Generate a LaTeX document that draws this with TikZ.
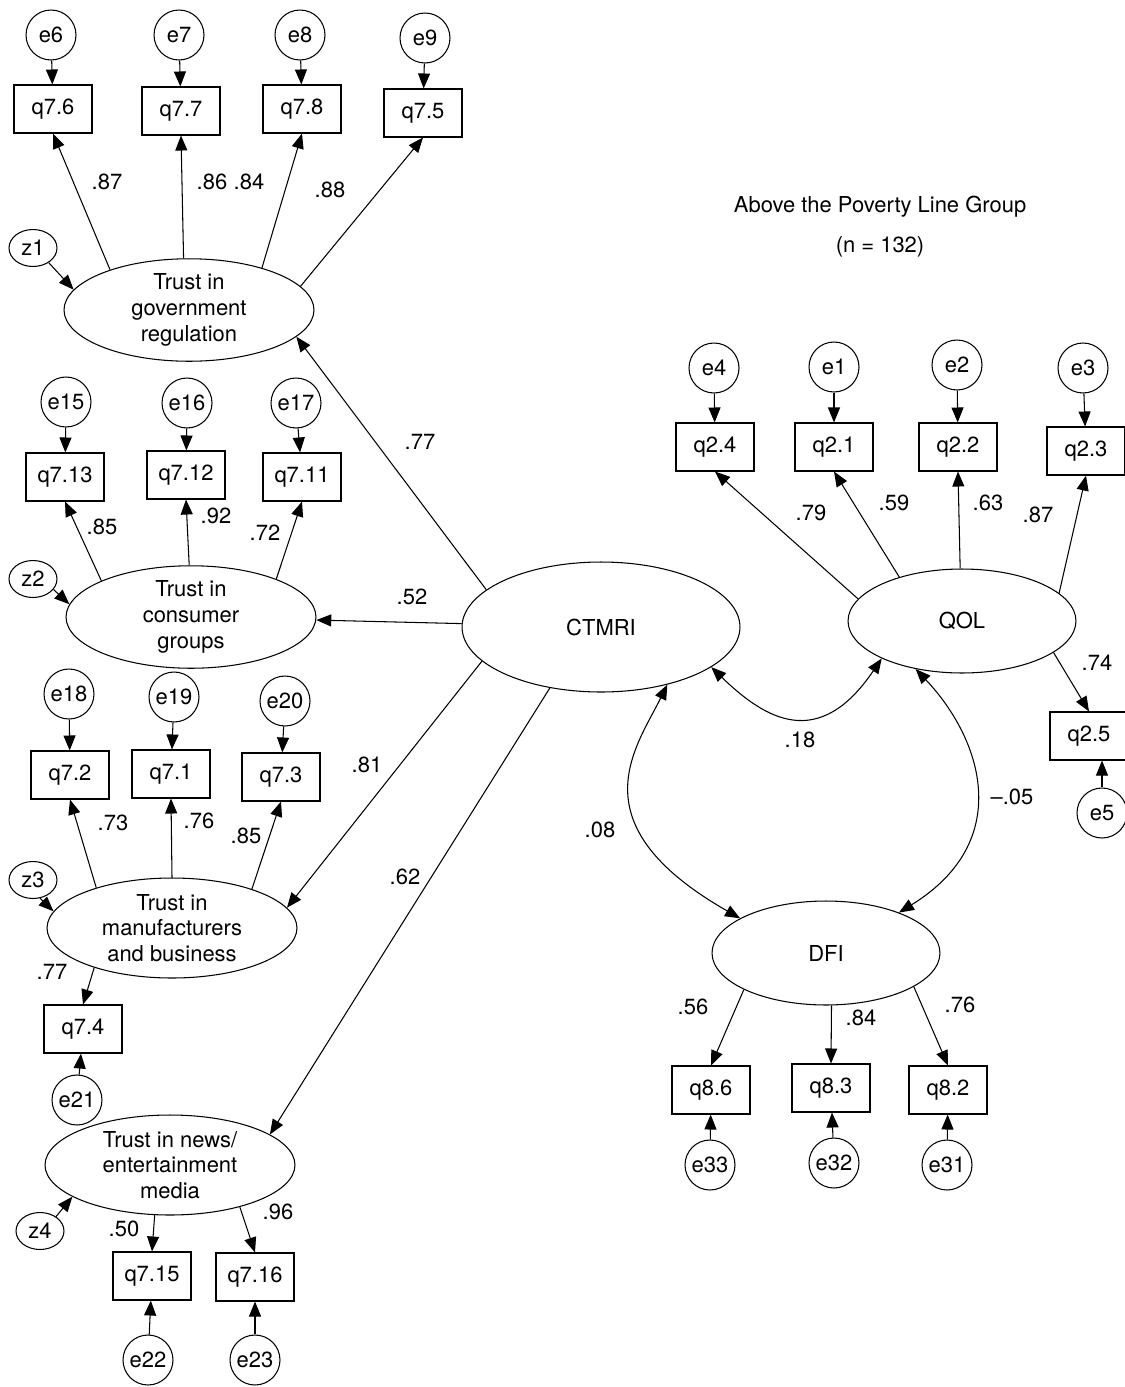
\documentclass[tikz,border=0pt]{standalone}
\usepackage{fontspec}
\setmainfont{TeX Gyre Heros}
\usetikzlibrary{arrows.meta,shapes.geometric}

\begin{document}
\begin{tikzpicture}[x=0.02cm, y=-0.02cm, line width=0.6pt,
    every node/.style={font=\fontsize{12.5}{14.7}\selectfont},
    obs/.style={draw, rectangle, minimum width=1.56cm, minimum height=0.96cm, inner sep=0pt},
    err/.style={draw, circle, minimum size=1cm, inner sep=0pt},
    dist/.style={draw, ellipse, minimum width=0.96cm, minimum height=0.74cm, inner sep=0pt},
    lat/.style={draw, ellipse, minimum width=5cm, minimum height=2cm, inner sep=0pt, align=center},
    reg/.style={-{Triangle[length=0.3cm, width=0.24cm]}},
    cov/.style={{Triangle[length=0.3cm, width=0.24cm]}-{Triangle[length=0.3cm, width=0.24cm]}}]
    \useasboundingbox (0,0) rectangle (1125,1387);
    % title
    \node (title) at (880,207) {Above the Poverty Line Group};
    \node (ncases) at (880,247) {(n = 132)};
    % trust in government regulation
    \node[err] (e6) at (51,35) {e6};
    \node[err] (e7) at (179,35) {e7};
    \node[err] (e8) at (300,35) {e8};
    \node[err] (e9) at (425,38) {e9};
    \node[obs] (q7-6) at (53,109) {q7.6};
    \node[obs] (q7-7) at (181,111) {q7.7};
    \node[obs] (q7-8) at (302,109) {q7.8};
    \node[obs] (q7-5) at (423,113) {q7.5};
    \node[dist] (z1) at (33,248) {z1};
    \node[lat] (gov) at (189,310) {Trust in\\government\\regulation};
    % trust in consumer groups
    \node[err] (e15) at (66,402) {e15};
    \node[err] (e16) at (187,403) {e16};
    \node[err] (e17) at (296,403) {e17};
    \node[obs] (q7-13) at (65,477) {q7.13};
    \node[obs] (q7-12) at (186,475) {q7.12};
    \node[obs] (q7-11) at (302,477) {q7.11};
    \node[dist] (z2) at (33,579) {z2};
    \node[lat] (cons) at (191,617) {Trust in\\consumer\\groups};
    % trust in manufacturers
    \node[err] (e18) at (69,694) {e18};
    \node[err] (e19) at (174,697) {e19};
    \node[err] (e20) at (285,701) {e20};
    \node[obs] (q7-2) at (70,775) {q7.2};
    \node[obs] (q7-1) at (171,774) {q7.1};
    \node[obs] (q7-3) at (281,777) {q7.3};
    \node[dist] (z3) at (33,880) {z3};
    \node[lat] (manuf) at (172,928) {Trust in\\manufacturers\\and business};
    \node[obs] (q7-4) at (83,1029) {q7.4};
    \node[err] (e21) at (77,1100) {e21};
    % trust in news
    \node[lat] (news) at (170,1165) {Trust in news/\\entertainment\\media};
    \node[dist] (z4) at (40,1231) {z4};
    \node[obs] (q7-15) at (152,1276) {q7.15};
    \node[obs] (q7-16) at (255,1277) {q7.16};
    \node[err] (e22) at (148,1360) {e22};
    \node[err] (e23) at (255,1360) {e23};
    % central factors
    \node[lat, minimum width=5.56cm, minimum height=2.6cm] (ctmri) at (601,627) {CTMRI};
    \node[lat, minimum width=4.56cm, minimum height=2.08cm] (qol) at (962,621) {QOL};
    \node[lat, minimum width=4.56cm, minimum height=2.08cm] (dfi) at (826,953) {DFI};
    % quality of life
    \node[err] (e4) at (714,368) {e4};
    \node[err] (e1) at (834,367) {e1};
    \node[err] (e2) at (957,365) {e2};
    \node[err] (e3) at (1083,368) {e3};
    \node[obs] (q2-4) at (715,447) {q2.4};
    \node[obs] (q2-1) at (834,447) {q2.1};
    \node[obs] (q2-2) at (958,447) {q2.2};
    \node[obs] (q2-3) at (1086,451) {q2.3};
    \node[obs] (q2-5) at (1089,736) {q2.5};
    \node[err] (e5) at (1102,813) {e5};
    % dfi
    \node[obs] (q8-6) at (711,1090) {q8.6};
    \node[obs] (q8-3) at (831,1088) {q8.3};
    \node[obs] (q8-2) at (948,1090) {q8.2};
    \node[err] (e33) at (710,1165) {e33};
    \node[err] (e32) at (834,1163) {e32};
    \node[err] (e31) at (947,1165) {e31};

    % error terms
    \foreach \a/\b in {e6/q7-6, e7/q7-7, e8/q7-8, e9/q7-5, e15/q7-13, e16/q7-12, e17/q7-11,
        e18/q7-2, e19/q7-1, e20/q7-3, e21/q7-4, e22/q7-15, e23/q7-16,
        e4/q2-4, e1/q2-1, e2/q2-2, e3/q2-3, e33/q8-6, e32/q8-3, e31/q8-2}
        \draw[reg] (\a) -- (\b);
    \draw[reg] (e5.north) -- (e5.north |- q2-5.south);
    % loadings
    \draw[reg] (gov.153) -- (q7-6.south);
    \draw[reg] (gov.96) -- (q7-7.south);
    \draw[reg] (gov.30) -- (q7-8.south);
    \draw[reg] (gov.12) -- (q7-5.south);
    \draw[reg] (z1.-43) -- (gov.170);
    \draw[reg] (cons.158) -- (q7-13.south);
    \draw[reg] (cons.92) -- (q7-12.south);
    \draw[reg] (cons.24) -- (q7-11.south);
    \draw[reg] (z2.-27) -- (cons.174);
    \draw[reg] (manuf.152) -- (q7-2.south);
    \draw[reg] (manuf.90) -- (q7-1.south);
    \draw[reg] (manuf.26) -- (q7-3.south);
    \draw[reg] (z3.-69) -- (manuf.172);
    \draw[reg] (manuf.207) -- (q7-4.north);
    \draw[reg] (z4.42) -- (news.198);
    \draw[reg] (news.253) -- (q7-15.north);
    \draw[reg] (news.-31) -- (q7-16.north);
    \draw[reg] (qol.168) -- (q2-4.south);
    \draw[reg] (qol.145) -- (q2-1.south);
    \draw[reg] (qol.92) -- (q2-2.south);
    \draw[reg] (qol.16) -- (q2-3.south);
    \draw[reg] (qol.-19) -- (q2-5.north);
    \draw[reg] (dfi.204) -- (q8-6.north);
    \draw[reg] (dfi.-84) -- (q8-3.north);
    \draw[reg] (dfi.-21) -- (q8-2.north);
    % second order
    \draw[reg] (ctmri.162) -- (gov.-14);
    \draw[reg] (ctmri) -- (cons);
    \draw[reg] (ctmri.196) -- (manuf.10);
    \draw[reg] (ctmri.230) -- (news.17);
    % correlations
    \draw[cov] (ctmri.-20) .. controls (766,720) and (819,751) .. (qol.205);
    \draw[cov] (ctmri.-41) .. controls (636,748) and (575,824) .. (dfi.158);
    \draw[cov] (qol.226) .. controls (982,739) and (1015,841) .. (dfi.29);

    % coefficients
    \foreach \n/\x/\y/\t in {1/107/182/.87, 2/212/182/.86, 3/249/182/.84, 4/330/190/.88,
        5/420/442/.77, 6/102/527/.85, 7/216/516/.92, 8/265/533/.72, 9/412/597/.52,
        10/113/823/.73, 11/199/821/.76, 12/246/836/.85, 13/367/765/.81, 14/405/877/.62,
        15/52/972/.77, 16/124/1229/.50, 17/278/1212/.96, 18/811/513/.79, 19/894/503/.59,
        20/988/503/.63, 21/1038/515/.87, 22/1097/663/.74, 23/800/740/.18, 24/600/830/.08,
        25/693/1007/.56, 26/861/1018/.84, 27/960/1005/.76}
        \node (w\n) at (\x,\y) {\t};
    \node (w28) at (1012,797) {--.05};
\end{tikzpicture}
\end{document}
